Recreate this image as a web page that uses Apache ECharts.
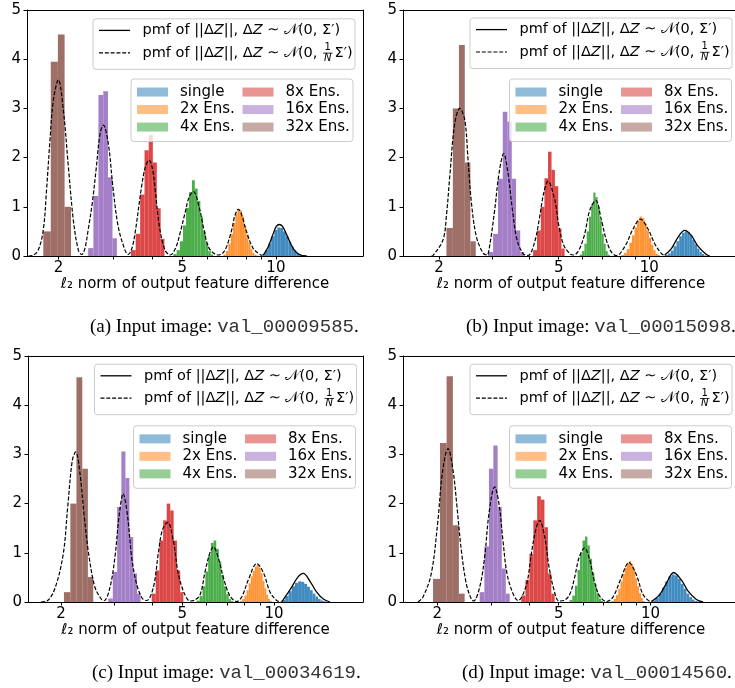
<!DOCTYPE html>
<html>
<head>
<meta charset="utf-8">
<script src="https://cdn.jsdelivr.net/npm/echarts@6/dist/echarts.min.js"></script>
<style>
  html, body { margin: 0; padding: 0; background: #ffffff; }
  #chart { width: 735px; height: 688px; }
</style>
</head>
<body>
<div id="chart"></div>
<script>
// ---- shared labels and ticks ----
const groupNames = ['single', '2x Ens.', '4x Ens.', '8x Ens.', '16x Ens.', '32x Ens.'];
const xTickLabels = [2, 5, 10];
const xTickMarks = [2, 3, 4, 5, 6, 7, 8, 9, 10];
const captionIds = ['(a)', '(b)', '(c)', '(d)'];
const captionFiles = ['val_00009585', 'val_00015098', 'val_00034619', 'val_00014560'];

// ---- panel (a) ----
const aLimits = [1.583, 19.06];
const aBinRanges = [[9.0, 12.52], [6.78, 8.78], [4.68, 6.29], [3.42, 4.38], [2.49, 3.08], [1.786, 2.193]];
const aSingle = [0.04, 0.12, 0.25, 0.40, 0.53, 0.58, 0.57, 0.50, 0.40, 0.29, 0.19, 0.11, 0.06, 0.03, 0.01, 0.005];
const a2x = [0.03, 0.10, 0.25, 0.45, 0.67, 0.86, 0.95, 0.92, 0.80, 0.62, 0.43, 0.27, 0.14, 0.06, 0.02, 0.01];
const a4x = [0.04, 0.12, 0.30, 0.62, 0.98, 1.30, 1.54, 1.37, 1.12, 0.80, 0.50, 0.26, 0.10, 0.03];
const a8x = [0.12, 0.45, 1.25, 2.15, 2.46, 1.90, 0.97, 0.35];
const a16x = [0.16, 1.22, 3.27, 3.35, 1.60, 0.36];
const a32x = [0.50, 3.95, 4.50, 1.00];
const aPmfFull = [[9.11, 0.02], [9.45, 0.19], [9.81, 0.46], [10.03, 0.60], [10.26, 0.64], [10.50, 0.60], [10.78, 0.46], [11.37, 0.15], [11.9, 0.03], [12.56, 0.0]];
const aPmfScaled = [
  [1.60, 0], [1.65, 0.01], [1.72, 0.12], [1.786, 0.53], [1.83, 1.35], [1.877, 2.36], [1.924, 3.17], [1.997, 3.58], [2.072, 2.97], [2.150, 1.82], [2.231, 0.73], [2.315, 0.12], [2.374, 0.03],
  [2.43, 0.15], [2.49, 0.53], [2.57, 1.10], [2.64, 1.75], [2.72, 2.49], [2.786, 2.66], [2.89, 2.29], [2.99, 1.41], [3.11, 0.60], [3.27, 0.12], [3.35, 0.03],
  [3.44, 0.15], [3.523, 0.46], [3.70, 1.42], [3.80, 1.80], [3.91, 1.95], [4.00, 1.80], [4.08, 1.41], [4.22, 0.60], [4.40, 0.12], [4.57, 0.02],
  [4.75, 0.15], [4.915, 0.46], [5.10, 0.87], [5.26, 1.20], [5.43, 1.31], [5.66, 1.00], [5.87, 0.53], [6.11, 0.15], [6.53, 0.02],
  [6.75, 0.06], [6.94, 0.19], [7.21, 0.53], [7.38, 0.82], [7.57, 0.95], [7.78, 0.82], [8.01, 0.53], [8.46, 0.15], [9.0, 0.01]
];

// ---- panel (b) ----
const bLimits = [1.519, 19.86];
const bBinRanges = [[11.25, 15.47], [8.07, 10.83], [5.87, 7.38], [4.11, 5.23], [2.91, 3.84], [2.118, 2.65]];
const bSingle = [0.02, 0.05, 0.11, 0.20, 0.30, 0.40, 0.47, 0.50, 0.48, 0.42, 0.33, 0.24, 0.15, 0.08, 0.04, 0.01];
const b2x = [0.02, 0.06, 0.14, 0.27, 0.42, 0.58, 0.72, 0.80, 0.77, 0.66, 0.52, 0.37, 0.23, 0.12, 0.05, 0.02];
const b4x = [0.03, 0.10, 0.25, 0.50, 0.80, 1.05, 1.29, 1.20, 1.00, 0.72, 0.45, 0.25, 0.10, 0.03];
const b8x = [0.12, 0.52, 1.00, 1.58, 2.12, 1.75, 1.42, 0.56, 0.15];
const b16x = [0.08, 0.45, 1.57, 2.93, 2.73, 1.57, 0.52, 0.08];
const b32x = [0.57, 3.00, 4.29, 1.90, 0.30];
const bPmfFull = [[11.25, 0.02], [11.84, 0.15], [12.45, 0.38], [13.11, 0.52], [13.79, 0.42], [14.51, 0.20], [15.47, 0.03], [15.87, 0.0]];
const bPmfScaled = [
  [1.888, 0], [1.912, 0.01], [2.063, 0.33], [2.12, 0.85], [2.172, 1.61], [2.257, 2.70], [2.345, 3.00], [2.436, 2.77], [2.499, 1.95], [2.565, 1.07], [2.664, 0.39], [2.802, 0.06], [2.889, 0.02],
  [2.95, 0.22], [3.064, 0.94], [3.167, 1.68], [3.283, 2.08], [3.392, 1.68], [3.508, 0.94], [3.634, 0.33], [3.805, 0.05], [3.953, 0.01],
  [4.161, 0.29], [4.323, 0.80], [4.458, 1.28], [4.607, 1.52], [4.85, 1.14], [5.01, 0.60], [5.195, 0.22], [5.44, 0.05], [5.58, 0.02],
  [5.68, 0.03], [5.87, 0.15], [6.10, 0.45], [6.34, 0.93], [6.64, 1.13], [6.93, 0.73], [7.20, 0.32], [7.48, 0.08], [7.77, 0.01],
  [7.97, 0.04], [8.39, 0.25], [8.83, 0.55], [9.34, 0.75], [9.90, 0.55], [10.42, 0.25], [10.97, 0.05], [11.25, 0.01]
];

// ---- panel (c) ----
const cLimits = [1.56, 19.56];
const cBinRanges = [[10.59, 15.05], [7.73, 9.82], [5.57, 7.35], [3.97, 5.04], [2.86, 3.65], [2.046, 2.553]];
const cSingle = [0.04, 0.12, 0.22, 0.32, 0.39, 0.42, 0.41, 0.37, 0.31, 0.24, 0.17, 0.11, 0.06, 0.03, 0.015, 0.005];
const c2x = [0.02, 0.06, 0.13, 0.24, 0.38, 0.52, 0.63, 0.72, 0.75, 0.70, 0.58, 0.43, 0.28, 0.15, 0.06, 0.02];
const c4x = [0.03, 0.12, 0.32, 0.62, 0.95, 1.20, 1.25, 1.08, 0.82, 0.55, 0.32, 0.16, 0.06, 0.02];
const c8x = [0.17, 0.64, 1.25, 1.66, 2.00, 1.86, 1.25, 0.64, 0.20];
const c16x = [0.07, 0.61, 1.93, 3.06, 2.52, 1.32, 0.58, 0.17];
const c32x = [0.20, 2.00, 4.57, 2.71, 0.51];
const cPmfFull = [[10.59, 0.0], [11.28, 0.25], [11.95, 0.50], [12.47, 0.58], [13.11, 0.42], [13.79, 0.20], [14.5, 0.06], [15.25, 0.0]];
const cPmfScaled = [
  [1.72, 0], [1.80, 0.02], [1.91, 0.27], [2.036, 0.98], [2.105, 1.93], [2.18, 2.88], [2.236, 3.05], [2.31, 2.61], [2.386, 1.73], [2.47, 0.95], [2.586, 0.30], [2.72, 0.05], [2.774, 0.03],
  [2.897, 0.30], [3.008, 0.92], [3.10, 1.73], [3.20, 2.20], [3.31, 1.73], [3.41, 0.92], [3.54, 0.37], [3.70, 0.07], [3.82, 0.03],
  [4.02, 0.30], [4.17, 0.98], [4.30, 1.46], [4.48, 1.62], [4.67, 1.25], [4.85, 0.58], [5.08, 0.17], [5.30, 0.02],
  [5.45, 0.03], [5.72, 0.15], [5.93, 0.60], [6.16, 1.00], [6.32, 1.12], [6.56, 0.90], [6.85, 0.45], [7.17, 0.12], [7.54, 0.01],
  [7.83, 0.10], [8.23, 0.45], [8.77, 0.78], [9.22, 0.60], [9.70, 0.20], [10.2, 0.03], [10.59, 0.0]
];

// ---- panel (d) ----
const dLimits = [1.544, 19.5];
const dBinRanges = [[10.07, 14.5], [7.44, 9.57], [5.43, 6.99], [3.77, 4.85], [2.754, 3.454], [1.937, 2.459]];
const dSingle = [0.03, 0.08, 0.17, 0.29, 0.42, 0.52, 0.56, 0.54, 0.47, 0.37, 0.27, 0.17, 0.10, 0.05, 0.02, 0.01];
const d2x = [0.02, 0.06, 0.14, 0.27, 0.42, 0.57, 0.70, 0.80, 0.83, 0.77, 0.64, 0.48, 0.32, 0.18, 0.08, 0.02];
const d4x = [0.04, 0.13, 0.33, 0.65, 1.00, 1.25, 1.33, 1.15, 0.88, 0.60, 0.36, 0.18, 0.07, 0.02];
const d8x = [0.13, 0.45, 0.98, 1.66, 2.15, 2.08, 1.52, 0.58, 0.17];
const d16x = [0.20, 1.13, 2.71, 3.18, 1.93, 0.68, 0.17];
const d32x = [0.47, 3.23, 4.59, 1.56, 0.17];
const dPmfFull = [[10.07, 0.01], [10.72, 0.15], [11.27, 0.38], [11.91, 0.60], [12.62, 0.45], [13.28, 0.22], [14.14, 0.05], [14.87, 0.0]];
const dPmfScaled = [
  [1.729, 0], [1.795, 0.10], [1.912, 0.58], [2.01, 1.66], [2.077, 2.61], [2.169, 3.12], [2.252, 2.68], [2.321, 1.93], [2.398, 1.05], [2.49, 0.37], [2.585, 0.06], [2.631, 0.02],
  [2.754, 0.30], [2.86, 0.92], [2.955, 1.80], [3.083, 2.34], [3.186, 2.00], [3.283, 1.25], [3.384, 0.58], [3.542, 0.17], [3.678, 0.03],
  [3.916, 0.34], [4.067, 0.98], [4.203, 1.46], [4.33, 1.66], [4.50, 1.32], [4.65, 0.71], [4.815, 0.27], [5.01, 0.02],
  [5.20, 0.03], [5.43, 0.15], [5.64, 0.50], [5.83, 0.90], [6.08, 1.10], [6.32, 0.85], [6.56, 0.40], [6.81, 0.12], [7.17, 0.01],
  [7.53, 0.10], [7.97, 0.45], [8.50, 0.80], [8.99, 0.55], [9.45, 0.15], [9.94, 0.01]
];

// ---- styling and layout ----
const tabColors = [[31, 119, 180], [255, 127, 14], [44, 160, 44], [214, 39, 40], [148, 103, 189], [140, 86, 75]];
const rgba = (c, a) => 'rgba(' + c[0] + ',' + c[1] + ',' + c[2] + ',' + a + ')';
const SANS = 'DejaVu Sans';
const MATH_SIZE = 14.5;

const panels = [
  { limits: aLimits, ranges: aBinRanges, heights: [aSingle, a2x, a4x, a8x, a16x, a32x], full: aPmfFull, scaled: aPmfScaled,
    grid: { left: 27, top: 10, width: 336, height: 246 }, lineBox: [93, 18.8], histBox: [131, 79], caption: [90, 327] },
  { limits: bLimits, ranges: bBinRanges, heights: [bSingle, b2x, b4x, b8x, b16x, b32x], full: bPmfFull, scaled: bPmfScaled,
    grid: { left: 403, top: 10, width: 336, height: 246 }, lineBox: [470, 18], histBox: [509.5, 79], caption: [466, 327] },
  { limits: cLimits, ranges: cBinRanges, heights: [cSingle, c2x, c4x, c8x, c16x, c32x], full: cPmfFull, scaled: cPmfScaled,
    grid: { left: 28, top: 356, width: 335, height: 246 }, lineBox: [94.5, 364.2], histBox: [133.5, 425.8], caption: [92, 673] },
  { limits: dLimits, ranges: dBinRanges, heights: [dSingle, d2x, d4x, d8x, d16x, d32x], full: dPmfFull, scaled: dPmfScaled,
    grid: { left: 403, top: 356, width: 336, height: 246 }, lineBox: [470, 364.2], histBox: [509.5, 425.8], caption: [462, 673] }
];

// bins [lo, hi, density] from a range and equal-width counts
function toBins(range, heights) {
  const w = (range[1] - range[0]) / heights.length;
  return heights.map((h, i) => [range[0] + i * w, range[0] + (i + 1) * w, h]);
}

function histRender(color) {
  return function (params, api) {
    const p0 = api.coord([api.value(0), api.value(2)]);
    const p1 = api.coord([api.value(1), 0]);
    return {
      type: 'rect',
      shape: { x: p0[0], y: p0[1], width: p1[0] - p0[0], height: p1[1] - p0[1] },
      style: { fill: color }
    };
  };
}

// text measurement for the hand-laid legend rows with math
const mctx = document.createElement('canvas').getContext('2d');
function textWidth(str, size, style, family) {
  mctx.font = (style || 'normal') + ' ' + size + 'px "' + (family || SANS) + '"';
  return mctx.measureText(str).width;
}

function mathRow(x, y, withFraction) {
  const els = [];
  const segs = [
    ['pmf of ||\u0394', 'normal'], ['Z', 'italic'], ['||, \u0394', 'normal'], ['Z', 'italic'],
    [' \u223C ', 'normal'], ['\uD835\uDCA9', 'normal'], ['(0, ', 'normal']
  ];
  let cx = x;
  segs.forEach(s => {
    els.push({ type: 'text', z: 7, style: { text: s[0], x: cx, y: y, fontSize: MATH_SIZE, fontFamily: SANS, fontStyle: s[1], fill: '#000', verticalAlign: 'middle', align: 'left' } });
    cx += textWidth(s[0], MATH_SIZE, s[1]);
  });
  if (withFraction) {
    const fw = Math.max(textWidth('1', 10), textWidth('N', 10, 'italic')) + 2;
    const mid = cx + 1 + fw / 2;
    els.push({ type: 'text', z: 7, style: { text: '1', x: mid, y: y - 5.2, fontSize: 10, fontFamily: SANS, fill: '#000', verticalAlign: 'middle', align: 'center' } });
    els.push({ type: 'text', z: 7, style: { text: 'N', x: mid, y: y + 5.6, fontSize: 10, fontFamily: SANS, fontStyle: 'italic', fill: '#000', verticalAlign: 'middle', align: 'center' } });
    els.push({ type: 'line', z: 7, shape: { x1: cx + 1, y1: y + 0.3, x2: cx + 1 + fw, y2: y + 0.3 }, style: { stroke: '#000', lineWidth: 0.8 } });
    cx += fw + 3;
  }
  els.push({ type: 'text', z: 7, style: { text: '\u03A3\u2032)', x: cx, y: y, fontSize: MATH_SIZE, fontFamily: SANS, fill: '#000', verticalAlign: 'middle', align: 'left' } });
  return els;
}

const grids = [], xAxes = [], yAxes = [], series = [], legends = [], graphics = [];

panels.forEach((p, i) => {
  grids.push(Object.assign({ show: false, containLabel: false, outerBoundsMode: 'none' }, p.grid));

  xAxes.push({
    type: 'log', logBase: 10, gridIndex: i, min: p.limits[0], max: p.limits[1],
    axisLine: { show: true, onZero: false, lineStyle: { color: '#000', width: 1 } },
    axisTick: { show: true, customValues: xTickMarks, length: 3.5, lineStyle: { color: '#000', width: 1 } },
    axisLabel: { show: true, customValues: xTickLabels, color: '#000', fontSize: 15, fontFamily: SANS, margin: 5,
      formatter: v => String(Math.round(v)) },
    splitLine: { show: false }, minorTick: { show: false },
    name: '\u2113\u2082 norm of output feature difference', nameLocation: 'middle', nameGap: 20,
    nameTextStyle: { color: '#000', fontSize: 15, fontFamily: SANS }
  });
  // top spine
  xAxes.push({
    type: 'log', logBase: 10, gridIndex: i, min: p.limits[0], max: p.limits[1], position: 'top',
    axisLine: { show: true, onZero: false, lineStyle: { color: '#000', width: 1 } },
    axisTick: { show: false }, axisLabel: { show: false }, splitLine: { show: false }
  });

  yAxes.push({
    type: 'value', gridIndex: i, min: 0, max: 5, interval: 1,
    axisLine: { show: true, onZero: false, lineStyle: { color: '#000', width: 1 } },
    axisTick: { show: true, length: 3.5, lineStyle: { color: '#000', width: 1 } },
    axisLabel: { color: '#000', fontSize: 15, fontFamily: SANS, margin: 6 },
    splitLine: { show: false }
  });
  // right spine
  yAxes.push({
    type: 'value', gridIndex: i, min: 0, max: 5, interval: 1, position: 'right',
    axisLine: { show: true, onZero: false, lineStyle: { color: '#000', width: 1 } },
    axisTick: { show: false }, axisLabel: { show: false }, splitLine: { show: false }
  });

  const xi = 2 * i, yi = 2 * i;
  groupNames.forEach((name, g) => {
    const fill = rgba(tabColors[g], 0.85);
    series.push({
      type: 'custom', name: name, xAxisIndex: xi, yAxisIndex: yi,
      data: toBins(p.ranges[g], p.heights[g]),
      encode: { x: [0, 1], y: 2 },
      renderItem: histRender(fill),
      itemStyle: { color: fill },
      clip: true, z: 2, silent: true
    });
  });

  series.push({
    type: 'line', xAxisIndex: xi, yAxisIndex: yi, data: p.scaled,
    showSymbol: false, smooth: 0.35, clip: true, z: 3, silent: true,
    lineStyle: { color: '#000', width: 1.2, type: [4, 1.8] }
  });
  series.push({
    type: 'line', xAxisIndex: xi, yAxisIndex: yi, data: p.full,
    showSymbol: false, smooth: 0.35, clip: true, z: 3, silent: true,
    lineStyle: { color: '#000', width: 1.3, type: 'solid' }
  });

  // histogram legend: two columns of three
  const hb = p.histBox;
  graphics.push({ type: 'rect', z: 5, shape: { x: hb[0], y: hb[1], width: 222, height: 62.5, r: 3 },
    style: { fill: 'rgba(255,255,255,0.8)', stroke: '#cccccc', lineWidth: 1 } });
  [0, 1].forEach(col => {
    legends.push({
      type: 'plain', orient: 'vertical', left: hb[0] + 6 + col * 105.5, top: hb[1] + 4.3,
      padding: 0, itemGap: 0, itemWidth: 31, itemHeight: 9, icon: 'rect', selectedMode: false, z: 6,
      formatter: '{gap| }{name}',
      textStyle: { color: '#000', fontSize: 15, fontFamily: SANS, lineHeight: 17.5,
        rich: { gap: { width: 7, fontSize: 15, fontFamily: SANS }, name: { fontSize: 15, fontFamily: SANS, color: '#000' } } },
      data: groupNames.slice(col * 3, col * 3 + 3).map((n, k) => ({ name: n, itemStyle: { color: rgba(tabColors[col * 3 + k], 0.5) } }))
    });
  });

  // pmf legend box
  const lb = p.lineBox;
  graphics.push({ type: 'rect', z: 5, shape: { x: lb[0], y: lb[1], width: 262, height: 50.5, r: 3 },
    style: { fill: 'rgba(255,255,255,0.8)', stroke: '#cccccc', lineWidth: 1 } });
  const r1 = lb[1] + 11.6, r2 = lb[1] + 34;
  graphics.push({ type: 'line', z: 7, shape: { x1: lb[0] + 6, y1: r1, x2: lb[0] + 37, y2: r1 }, style: { stroke: '#000', lineWidth: 1.3 } });
  graphics.push({ type: 'line', z: 7, shape: { x1: lb[0] + 6, y1: r2, x2: lb[0] + 37, y2: r2 }, style: { stroke: '#000', lineWidth: 1.2, lineDash: [4, 1.8] } });
  mathRow(lb[0] + 49.5, r1, false).forEach(e => graphics.push(e));
  mathRow(lb[0] + 49.5, r2, true).forEach(e => graphics.push(e));

  // caption
  graphics.push({
    type: 'text', z: 7,
    style: {
      x: p.caption[0], y: p.caption[1], verticalAlign: 'middle', align: 'left', fill: '#000',
      text: '{s|' + captionIds[i] + ' Input image: }{m|' + captionFiles[i] + '}{s|.}',
      rich: {
        s: { fontFamily: 'Liberation Serif', fontSize: 19, fill: '#000' },
        m: { fontFamily: 'Liberation Mono', fontSize: 19, fill: '#333' }
      }
    }
  });
});

const chart = echarts.init(document.getElementById('chart'), null, { renderer: 'canvas', width: 735, height: 688 });
chart.setOption({
  animation: false,
  backgroundColor: '#ffffff',
  grid: grids,
  xAxis: xAxes,
  yAxis: yAxes,
  legend: legends,
  series: series,
  graphic: { elements: graphics }
});
</script>
</body>
</html>
